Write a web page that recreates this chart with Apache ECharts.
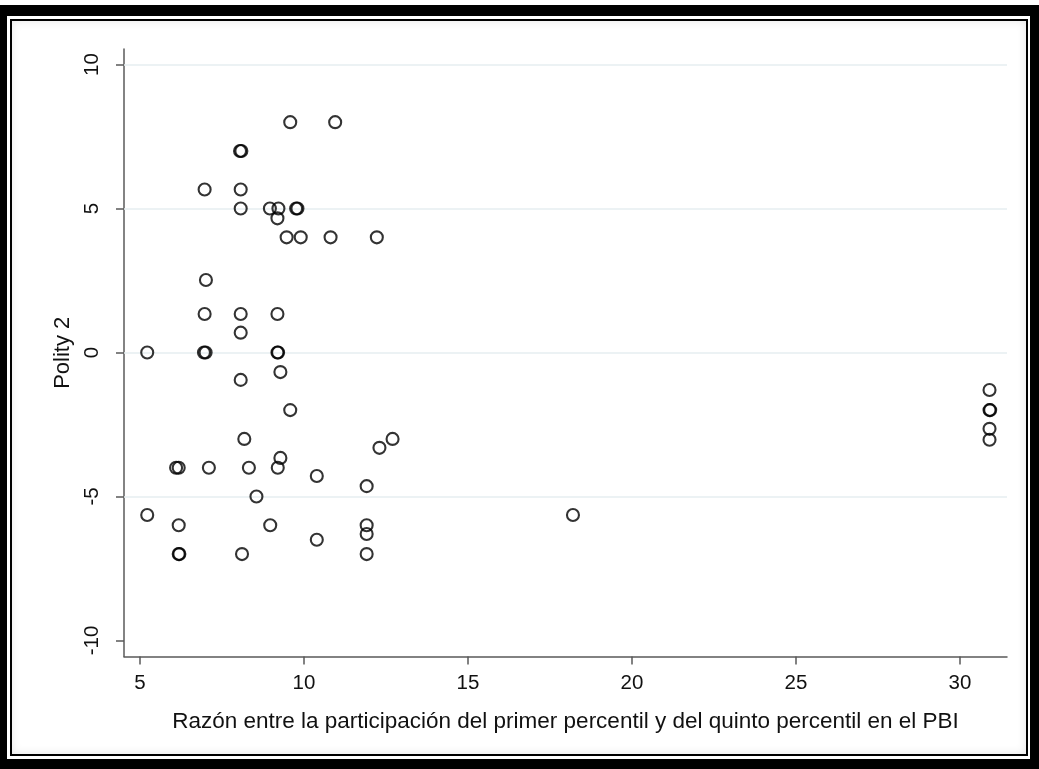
<!DOCTYPE html>
<html>
<head>
<meta charset="utf-8">
<script src="https://cdn.jsdelivr.net/npm/echarts@6/dist/echarts.min.js"></script>
<style>
  body {
    margin: 0;
    background: #fff;
    width: 1039px;
    height: 769px;
    overflow: hidden;
    position: relative;
  }
  .frame {
    position: absolute;
    left: 0;
    top: 5px;
    width: 1039px;
    height: 764px;
    box-sizing: border-box;
    border-style: solid;
    border-color: #000;
    border-width: 11px 9px 10px 7px;
  }
  .inner {
    position: absolute;
    left: 10px;
    top: 19px;
    right: 11px;
    bottom: 13px;
    border: 2px solid #000;
    background: #fff;
    box-shadow: inset 0 0 10px rgba(0, 0, 0, 0.10);
  }
  #chart {
    position: absolute;
    left: 0;
    top: 0;
    width: 1039px;
    height: 769px;
  }
</style>
</head>
<body>
<div class="frame"></div>
<div class="inner"></div>
<div id="chart"></div>
<script>
  // razon entre participacion del primer y quinto percentil (x) / polity 2 (y)
  const ratio = [
    9.58, 10.95, 8.05, 8.09, 6.97, 8.07, 8.07, 8.96, 9.22, 9.76,
    9.80, 9.19, 9.47, 9.90, 10.81, 12.22, 7.01, 6.97, 8.07, 9.19,
    8.07, 5.22, 6.95, 7.00, 9.19, 9.21, 9.28, 8.07, 9.58, 8.18,
    12.70, 12.30, 9.28, 6.10, 6.18, 7.10, 8.32, 9.20, 10.39, 11.91,
    8.55, 5.22, 6.18, 8.97, 11.91, 11.91, 10.39, 6.18, 6.20, 8.11,
    11.91, 18.20, 30.90, 30.90, 30.92, 30.90, 30.90
  ]
  const polity = [
    8.0, 8.0, 7.0, 7.0, 5.66, 5.66, 5.0, 5.0, 5.0, 5.0,
    5.0, 4.66, 4.0, 4.0, 4.0, 4.0, 2.52, 1.34, 1.34, 1.34,
    0.69, 0.0, 0.0, 0.0, 0.0, 0.0, -0.68, -0.95, -2.0, -3.0,
    -3.0, -3.31, -3.66, -4.0, -4.0, -4.0, -4.0, -4.0, -4.29, -4.64,
    -5.0, -5.64, -6.0, -6.0, -6.0, -6.3, -6.5, -7.0, -7.0, -7.0,
    -7.0, -5.64, -1.3, -2.0, -2.0, -2.65, -3.03
  ]
  const xTicks = [5, 10, 15, 20, 25, 30]
  const yTicks = [-10, -5, 0, 5, 10]
  const yGrid = [-5, 0, 5, 10]

  const points = ratio.map((x, i) => [x, polity[i]])

  const font = 'Liberation Sans, Arial, Helvetica, sans-serif'
  const axisColor = '#5a5a5a'

  let chart = echarts.init(document.getElementById('chart'))
  chart.setOption({
    backgroundColor: 'transparent',
    animation: false,
    grid: {
      left: 124,
      right: 32,
      top: 49,
      bottom: 112.5,
    },
    xAxis: {
      type: 'value',
      min: 4.512,
      max: 31.433,
      name: 'Razón entre la participación del primer percentil y del quinto percentil en el PBI',
      nameLocation: 'middle',
      nameGap: 54,
      nameTextStyle: {
        fontFamily: font,
        fontSize: 22.5,
        color: '#111',
      },
      axisLine: {
        show: true,
        onZero: false,
        lineStyle: { color: axisColor, width: 1.5 },
      },
      axisTick: {
        show: true,
        length: 8,
        customValues: xTicks,
        lineStyle: { color: axisColor, width: 1.5 },
      },
      axisLabel: {
        customValues: xTicks,
        margin: 16,
        fontFamily: font,
        fontSize: 20.5,
        color: '#111',
      },
      splitLine: { show: false },
    },
    yAxis: {
      type: 'value',
      min: -10.556,
      max: 10.54,
      name: 'Polity 2',
      nameLocation: 'middle',
      nameGap: 46,
      nameTextStyle: {
        fontFamily: font,
        fontSize: 22,
        color: '#111',
      },
      axisLine: {
        show: true,
        onZero: false,
        lineStyle: { color: axisColor, width: 1.5 },
      },
      axisTick: {
        show: true,
        length: 8,
        customValues: yTicks,
        lineStyle: { color: axisColor, width: 1.5 },
      },
      axisLabel: {
        customValues: yTicks,
        rotate: 90,
        margin: 21,
        fontFamily: font,
        fontSize: 20.5,
        color: '#111',
      },
      splitLine: { show: false },
    },
    series: [
      {
        type: 'scatter',
        data: points,
        symbol: 'circle',
        symbolSize: 12,
        itemStyle: {
          color: 'rgba(0,0,0,0)',
          borderColor: '#000',
          borderWidth: 2.1,
        },
        markLine: {
          silent: true,
          symbol: 'none',
          label: { show: false },
          lineStyle: { color: '#e6eef1', width: 1.5, type: 'solid' },
          data: yGrid.map((v) => ({ yAxis: v })),
          z: 1,
        },
      },
    ],
  })
</script>
</body>
</html>
